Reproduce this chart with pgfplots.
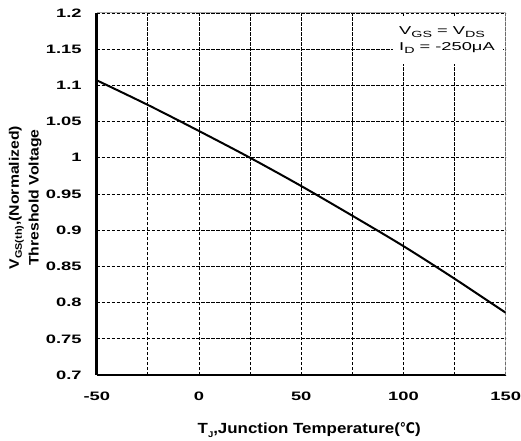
\documentclass[border=0pt]{standalone}
\usepackage{pgfplots}
\pgfplotsset{compat=1.18}
\usepackage{fontspec}
\setmainfont{Liberation Sans}
% wide sans faces used by the different text elements
\newfontfamily\tickfont{Liberation Sans}[FakeStretch=1.5]
\newfontfamily\labelfont{Liberation Sans}[FakeStretch=1.15]
\newfontfamily\notefont{Liberation Sans}[FakeStretch=1.6]
\newfontfamily\degfont{DejaVu Sans}[FakeStretch=0.85]
% lowered small text for subscripts
\newcommand\sub[2][8]{\raisebox{-0.22em}{\fontsize{#1}{#1}\selectfont #2}}

\begin{document}
\begin{tikzpicture}
\begin{axis}[
  name=ax,
  scale only axis,
  width=410bp, height=363bp,
  xmin=-50, xmax=150, ymin=0.7, ymax=1.2,
  axis x line*=bottom, axis y line*=left,
  axis line style={-, line width=2.6bp, black},
  xtick={-50,0,50,100,150},
  xticklabels={-50,0,50,100,150},
  minor xtick={-25,25,75,125},
  ytick={0.7,0.75,0.8,0.85,0.9,0.95,1,1.05,1.1,1.15,1.2},
  yticklabels={0.7,0.75,0.8,0.85,0.9,0.95,1,1.05,1.1,1.15,1.2},
  major tick length=0pt, minor tick length=0pt,
  grid=both,
  major grid style={black, line width=0.9bp, dash pattern=on 3.5bp off 1.5bp},
  minor grid style={black, line width=0.9bp, dash pattern=on 3.5bp off 1.5bp},
  ticklabel style={font=\tickfont\bfseries\fontsize{12.3}{13}\selectfont},
  yticklabel style={anchor=east, inner sep=0pt, xshift=-15bp},
  xticklabel style={anchor=base, inner sep=0pt, yshift=-26bp},
  xlabel={T\sub[8.3]{J},Junction Temperature({\degfont\bfseries ℃})},
  xlabel style={font=\labelfont\bfseries\fontsize{14.8}{16}\selectfont,
    at={(axis description cs:0.5,0)}, anchor=base, yshift=-59bp, xshift=8bp},
  ylabel={V\sub[9.5]{GS(th)},(Normalized)\\Threshold Voltage},
  ylabel style={font=\labelfont\bfseries\fontsize{13.8}{20}\selectfont,
    align=center, at={(axis description cs:-0.175,0.49)}, anchor=center},
]
% thin grey frame on the top and right sides
\draw[gray!70, line width=1bp] (rel axis cs:0,1) -- (rel axis cs:1,1) -- (rel axis cs:1,0);

\addplot[black, line width=2bp, smooth] coordinates {
  (-50,1.107) (-25,1.073) (0,1.037) (25,1.000) (50,0.961)
  (75,0.920) (100,0.878) (125,0.833) (150,0.786)
};

% test condition box
\fill[white] (axis cs:94.9,1.1298) rectangle (axis cs:148.5,1.1945);
\node[anchor=base west, inner sep=0pt, font=\notefont\fontsize{11.5}{12}\selectfont]
  at (axis cs:97.8,1.1697) {V\sub[9]{GS} = V\sub[9]{DS}};
\node[anchor=base west, inner sep=0pt, font=\notefont\fontsize{11.5}{12}\selectfont]
  at (axis cs:97.8,1.1477) {I\sub[9]{D} = -250μA};
\end{axis}
% page extent around the plot area
\path ([shift={(-97bp,-61bp)}]ax.south west) rectangle ([shift={(14bp,13bp)}]ax.north east);
\end{tikzpicture}
\end{document}
